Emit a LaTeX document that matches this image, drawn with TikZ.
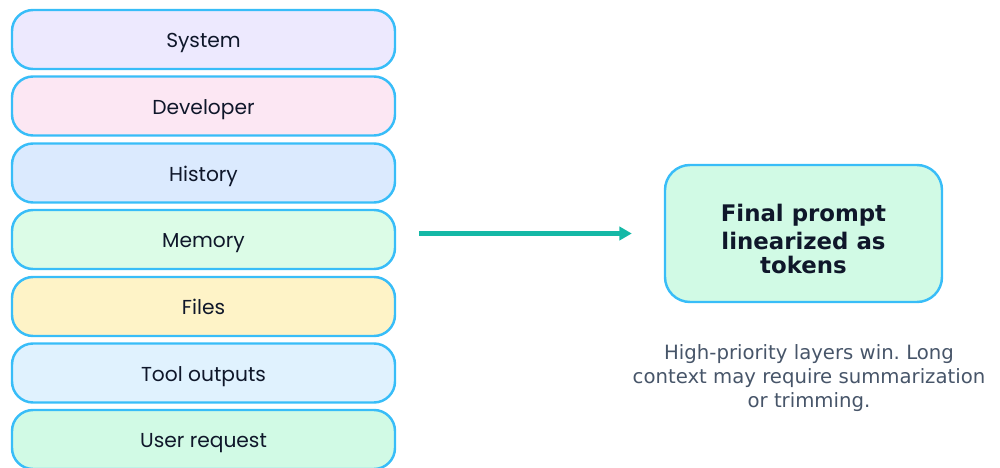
\documentclass[tikz,border=0pt]{standalone}
\usepackage{fontspec}
\setmainfont{DejaVu Sans}
\newfontfamily\layerfont{Poppins}
\usepackage{tikz}
\usetikzlibrary{positioning,arrows.meta,calc}
\frenchspacing

\definecolor{edgeblue}{HTML}{38BDF8}
\definecolor{arrowteal}{HTML}{14B8A6}
\definecolor{inktext}{HTML}{0F172A}
\definecolor{notegray}{HTML}{475569}
\definecolor{sysfill}{HTML}{EDE9FE}
\definecolor{devfill}{HTML}{FCE7F3}
\definecolor{histfill}{HTML}{DBEAFE}
\definecolor{memfill}{HTML}{DCFCE7}
\definecolor{filesfill}{HTML}{FEF3C7}
\definecolor{toolfill}{HTML}{E0F2FE}
\definecolor{userfill}{HTML}{D1FAE5}

\begin{document}
\begin{tikzpicture}[
    layer/.style={minimum width=7.66cm, minimum height=1.18cm, draw=edgeblue, line width=1.4pt,
        rounded corners=0.42cm, text=inktext, text height=9.6pt, text depth=0pt,
        font=\layerfont\fontsize{11.5}{13}\selectfont},
    result/.style={minimum width=5.54cm, minimum height=2.74cm, draw=edgeblue, line width=1.4pt,
        rounded corners=0.5cm, fill=userfill, text=inktext, align=center,
        font=\bfseries\fontsize{13}{13.6}\selectfont},
    arrow/.style={-{Triangle[length=7pt,width=7.5pt]}, line width=2.3pt, arrowteal},
    note/.style={align=center, text=notegray, font=\fontsize{11.2}{13.6}\selectfont}
]
\useasboundingbox (0,0) rectangle (20,-9.36);

% Prompt layers, highest priority on top
\node[layer, fill=sysfill]   (sys)   at (4.07, -0.79) {System};
\node[layer, fill=devfill]   (dev)   at (4.07, -2.12) {Developer};
\node[layer, fill=histfill]  (hist)  at (4.07, -3.46) {History};
\node[layer, fill=memfill]   (mem)   at (4.07, -4.79) {Memory};
\node[layer, fill=filesfill] (files) at (4.07, -6.13) {Files};
\node[layer, fill=toolfill]  (tools) at (4.07, -7.46) {Tool outputs};
\node[layer, fill=userfill]  (user)  at (4.07, -8.79) {User request};

% Result
\node[result] (final) at (16.07, -4.67) {\rule{0pt}{16pt}Final prompt\\[2.8pt]linearized as\\tokens};
\node[note] (caption) at (16.18, -7.56) {High-priority layers win. Long\\context may require summarization\\or trimming.};

\draw[arrow, shorten <=0.46cm, shorten >=0.64cm] (mem.east |- final.west) -- (final.west);

\end{tikzpicture}
\end{document}
